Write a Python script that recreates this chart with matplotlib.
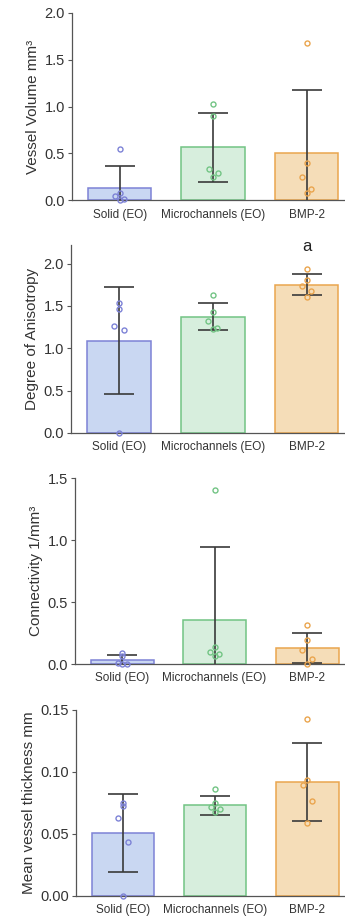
import matplotlib
matplotlib.use("Agg")
import matplotlib.pyplot as plt

plt.rcParams['font.family'] = ['Liberation Sans', 'DejaVu Sans']

# groups
groups = ['Solid (EO)', 'Microchannels (EO)', 'BMP-2']

# vessel volume (mm3)
vol_mean = [0.136, 0.564, 0.50]
vol_sd = [0.23, 0.37, 0.68]
vol_pts = [[0.55, 0.08, 0.05, 0.01, 0.0],
           [1.03, 0.90, 0.33, 0.29, 0.25],
           [1.68, 0.40, 0.25, 0.12, 0.08]]

# degree of anisotropy
da_mean = [1.09, 1.37, 1.75]
da_sd = [0.63, 0.16, 0.125]
da_pts = [[1.53, 1.46, 1.26, 1.22, 0.0],
          [1.63, 1.43, 1.32, 1.24, 1.23],
          [1.93, 1.81, 1.73, 1.68, 1.60]]

# connectivity (1/mm3)
con_mean = [0.031, 0.357, 0.13]
con_sd = [0.039, 0.587, 0.121]
con_pts = [[0.085, 0.065, 0.005, 0.0, 0.0],
           [1.406, 0.134, 0.10, 0.08, 0.067],
           [0.315, 0.19, 0.11, 0.043, 0.003]]

# mean vessel thickness (mm)
th_mean = [0.0505, 0.0730, 0.0920]
th_sd = [0.0315, 0.0078, 0.0316]
th_pts = [[0.0753, 0.0726, 0.0626, 0.0433, 0.0],
          [0.086, 0.075, 0.072, 0.070, 0.068],
          [0.143, 0.0933, 0.0895, 0.0763, 0.0586]]

faces = ['#c9d7f2', '#d7eedd', '#f5ddb8']
edges = ['#7d82d6', '#72c484', '#eaa54e']
jitter = [0.0, 0.0, -0.05, 0.05, 0.0]

fig = plt.figure(figsize=(3.45, 9.23), dpi=100)

panels = [
    (vol_mean, vol_sd, vol_pts, 'Vessel Volume mm³', (0, 2.0), [0, 0.5, 1.0, 1.5, 2.0], '%.1f',
     [72/345, 0.783, 1 - 72/345, 0.203]),
    (da_mean, da_sd, da_pts, 'Degree of Anisotropy', (0, 2.22), [0, 0.5, 1.0, 1.5, 2.0], '%.1f',
     [71/345, 0.531, 1 - 71/345, 0.2037]),
    (con_mean, con_sd, con_pts, 'Connectivity 1/mm³', (0, 1.5), [0, 0.5, 1.0, 1.5], '%.1f',
     [75/345, 0.2806, 1 - 75/345, 0.2015]),
    (th_mean, th_sd, th_pts, 'Mean vessel thickness mm', (0, 0.15), [0, 0.05, 0.10, 0.15], '%.2f',
     [76/345, 0.0293, 1 - 76/345, 0.2015]),
]

for i, (mean, sd, pts, label, ylim, ticks, fmt, pos) in enumerate(panels):
    ax = fig.add_axes(pos)
    x = range(len(groups))
    ax.bar(x, mean, width=0.68, color=faces, edgecolor=edges, linewidth=1.1, zorder=1)
    for j in x:
        xs = [j + d for d in jitter]
        ax.plot(xs, pts[j], 'o', mfc='none', mec=edges[j], ms=3.6, mew=1.0, zorder=3,
                clip_on=False)
        ax.errorbar(j, mean[j], yerr=sd[j], color='#3a3a3a', lw=1.2, capsize=11,
                    capthick=1.2, zorder=2)
    ax.set_xlim(-0.51, 2.41)
    ax.set_ylim(*ylim)
    ax.set_yticks(ticks)
    ax.set_yticklabels([fmt % t for t in ticks], fontsize=10.5, color='#333333')
    ax.set_xticks(list(x))
    ax.set_xticklabels(groups, fontsize=8.5, color='#333333')
    ax.tick_params(axis='x', length=0, pad=6)
    ax.tick_params(axis='y', length=3, width=0.8, color='#555555', pad=2)
    ax.set_ylabel(label, fontsize=11, color='#333333', labelpad=3)
    for s in ['top', 'right']:
        ax.spines[s].set_visible(False)
    for s in ['left', 'bottom']:
        ax.spines[s].set_color('#555555')
        ax.spines[s].set_linewidth(0.9)
    if i == 1:
        ax.text(2, 2.2, 'a', ha='center', va='center', fontsize=12, color='#222222')

fig.savefig('out.png', dpi=100)
